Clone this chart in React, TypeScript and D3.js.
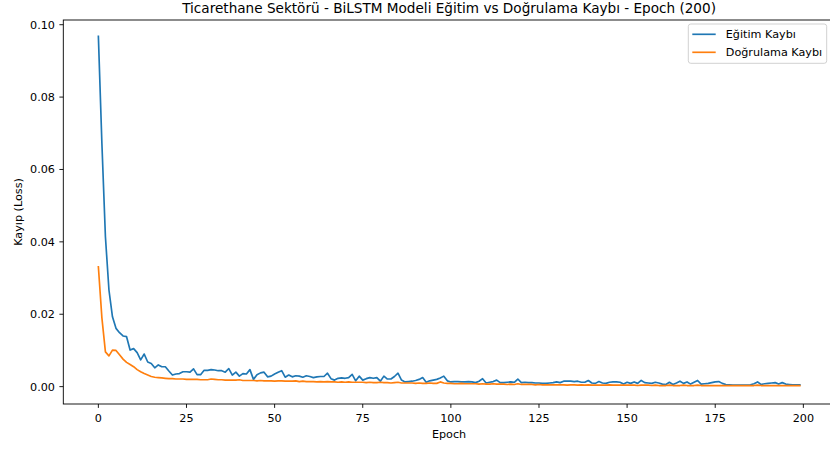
import React from "react";
import * as d3 from "d3";

const epochs: number[] = d3.range(200);

const trainLoss: number[] = [
  0.0968, 0.0672, 0.0414, 0.0267, 0.0193, 0.0161, 0.0149, 0.0140, 0.0138, 0.0101,
  0.0105, 0.0094, 0.0074, 0.0090, 0.0068, 0.0064, 0.0052, 0.0060, 0.0055, 0.0055,
  0.0043, 0.0032, 0.0035, 0.0036, 0.0041, 0.0041, 0.0040, 0.0049, 0.0033, 0.0033,
  0.0045, 0.0045, 0.0047, 0.0046, 0.0044, 0.0044, 0.0040, 0.0050, 0.0032, 0.0040,
  0.0029, 0.0036, 0.0035, 0.0047, 0.0020, 0.0033, 0.0038, 0.0040, 0.0027, 0.0029,
  0.0035, 0.0040, 0.0044, 0.0026, 0.0032, 0.0027, 0.0030, 0.0029, 0.0026, 0.0030,
  0.0028, 0.0025, 0.0027, 0.0028, 0.0028, 0.0037, 0.0022, 0.0018, 0.0023, 0.0024,
  0.0023, 0.0025, 0.0034, 0.0016, 0.0029, 0.0018, 0.0022, 0.0025, 0.0023, 0.0025,
  0.0015, 0.0029, 0.0021, 0.0021, 0.0028, 0.0037, 0.0018, 0.0013, 0.0014, 0.0015,
  0.0017, 0.0020, 0.0025, 0.0012, 0.0016, 0.0018, 0.0020, 0.0024, 0.0029, 0.0016,
  0.0013, 0.0014, 0.0014, 0.0013, 0.0013, 0.0014, 0.0013, 0.0011, 0.0015, 0.0022,
  0.0010, 0.0012, 0.0014, 0.0018, 0.0011, 0.0011, 0.0012, 0.0013, 0.0012, 0.0021,
  0.0011, 0.0012, 0.0011, 0.0011, 0.0010, 0.0010, 0.0009, 0.0009, 0.0010, 0.0011,
  0.0013, 0.0011, 0.0015, 0.0015, 0.0015, 0.0014, 0.0015, 0.0012, 0.0012, 0.0017,
  0.0010, 0.0009, 0.0014, 0.0010, 0.0009, 0.0012, 0.0013, 0.0013, 0.0012, 0.0007,
  0.0012, 0.0009, 0.0013, 0.0009, 0.0017, 0.0011, 0.0010, 0.0009, 0.0012, 0.0010,
  0.0007, 0.0006, 0.0012, 0.0006, 0.0010, 0.0015, 0.0009, 0.0013, 0.0007, 0.0012,
  0.0017, 0.0007, 0.0008, 0.0009, 0.0011, 0.0013, 0.0014, 0.0009, 0.0006, 0.0005,
  0.0004, 0.0004, 0.0004, 0.0004, 0.0004, 0.0005, 0.0008, 0.0013, 0.0006, 0.0008,
  0.0009, 0.0010, 0.0011, 0.0007, 0.0011, 0.0007, 0.0006, 0.0005, 0.0005, 0.0005,
];

const valLoss: number[] = [
  0.0331, 0.0190, 0.0096, 0.0085, 0.0101, 0.0100, 0.0088, 0.0076, 0.0067, 0.0061,
  0.0055, 0.0047, 0.0041, 0.0036, 0.0032, 0.0028, 0.0026, 0.0025, 0.0024, 0.0023,
  0.0022, 0.0022, 0.0021, 0.0021, 0.0021, 0.0020, 0.0020, 0.0020, 0.0020, 0.0019,
  0.0019, 0.0019, 0.0021, 0.0020, 0.0019, 0.0019, 0.0018, 0.0018, 0.0018, 0.0018,
  0.0019, 0.0017, 0.0017, 0.0017, 0.0017, 0.0016, 0.0017, 0.0016, 0.0016, 0.0016,
  0.0015, 0.0016, 0.0016, 0.0015, 0.0015, 0.0015, 0.0016, 0.0014, 0.0015, 0.0014,
  0.0014, 0.0014, 0.0013, 0.0014, 0.0013, 0.0014, 0.0013, 0.0013, 0.0012, 0.0013,
  0.0012, 0.0013, 0.0012, 0.0012, 0.0012, 0.0012, 0.0011, 0.0012, 0.0011, 0.0011,
  0.0012, 0.0011, 0.0011, 0.0010, 0.0011, 0.0012, 0.0010, 0.0010, 0.0010, 0.0010,
  0.0009, 0.0010, 0.0009, 0.0009, 0.0010, 0.0009, 0.0009, 0.0013, 0.0010, 0.0009,
  0.0009, 0.0008, 0.0008, 0.0009, 0.0008, 0.0008, 0.0008, 0.0008, 0.0007, 0.0008,
  0.0007, 0.0007, 0.0008, 0.0007, 0.0007, 0.0007, 0.0006, 0.0007, 0.0006, 0.0008,
  0.0006, 0.0006, 0.0006, 0.0006, 0.0005, 0.0006, 0.0005, 0.0005, 0.0005, 0.0005,
  0.0005, 0.0005, 0.0005, 0.0004, 0.0005, 0.0005, 0.0004, 0.0005, 0.0004, 0.0005,
  0.0004, 0.0004, 0.0004, 0.0004, 0.0004, 0.0005, 0.0004, 0.0004, 0.0004, 0.0004,
  0.0004, 0.0004, 0.0004, 0.0003, 0.0004, 0.0004, 0.0004, 0.0003, 0.0004, 0.0003,
  0.0003, 0.0003, 0.0004, 0.0003, 0.0003, 0.0003, 0.0004, 0.0003, 0.0003, 0.0003,
  0.0004, 0.0003, 0.0003, 0.0003, 0.0003, 0.0003, 0.0003, 0.0003, 0.0003, 0.0003,
  0.0003, 0.0003, 0.0003, 0.0003, 0.0003, 0.0003, 0.0003, 0.0004, 0.0003, 0.0003,
  0.0003, 0.0003, 0.0003, 0.0003, 0.0003, 0.0003, 0.0003, 0.0003, 0.0003, 0.0003,
];

const xTicks: number[] = [0, 25, 50, 75, 100, 125, 150, 175, 200];
const yTicks: number[] = [0.0, 0.02, 0.04, 0.06, 0.08, 0.1];

const seriesNames: string[] = ["Eğitim Kaybı", "Doğrulama Kaybı"];
const seriesColors: string[] = ["#1f77b4", "#ff7f0e"];

const titleText = "Ticarethane Sektörü - BiLSTM Modeli Eğitim vs Doğrulama Kaybı - Epoch (200)";

const W = 830;
const H = 449;
const L = 63.3;
const R = 834.9;
const T = 20;
const B = 404;
const FONT = "'DejaVu Sans', sans-serif";
const FS = 11.2;

export default function App() {
  const x = d3.scaleLinear().domain([-9.95, 208.95]).range([L, R]);
  const y = d3.scaleLinear().domain([-0.0048, 0.1013]).range([B, T]);

  const line = d3
    .line<number>()
    .x((_, i) => x(epochs[i]))
    .y((d) => y(d));

  const series = [trainLoss, valLoss];

  const legX = 688.3;
  const legY = 24;
  const legW = 138.4;
  const legH = 39.3;

  return (
    <svg
      width={W}
      height={H}
      style={{ position: "absolute", left: 0, top: 0, background: "#fff" }}
      fontFamily={FONT}
    >
      <rect x={0} y={0} width={W} height={H} fill="#fff" />
      <g>
        {series.map((s, k) => (
          <path
            key={k}
            d={line(s) || ""}
            fill="none"
            stroke={seriesColors[k]}
            strokeWidth={1.67}
            strokeLinejoin="round"
            strokeLinecap="square"
          />
        ))}
      </g>
      <rect x={L} y={T} width={R - L} height={B - T} fill="none" stroke="#000" strokeWidth={0.9} />
      {xTicks.map((t) => (
        <g key={"x" + t}>
          <line x1={x(t)} x2={x(t)} y1={B} y2={B + 3.9} stroke="#000" strokeWidth={0.9} />
          <text x={x(t)} y={B + 17.7} fontSize={FS} textAnchor="middle" fill="#000">
            {d3.format("d")(t)}
          </text>
        </g>
      ))}
      {yTicks.map((t) => (
        <g key={"y" + t}>
          <line x1={L - 3.9} x2={L} y1={y(t)} y2={y(t)} stroke="#000" strokeWidth={0.9} />
          <text x={L - 8.3} y={y(t) + 4} fontSize={FS} textAnchor="end" fill="#000">
            {d3.format(".2f")(t)}
          </text>
        </g>
      ))}
      <text x={(L + R) / 2} y={437.5} fontSize={FS} textAnchor="middle" fill="#000">
        Epoch
      </text>
      <text
        transform={`translate(21.5, ${(T + B) / 2}) rotate(-90)`}
        fontSize={FS}
        textAnchor="middle"
        fill="#000"
      >
        Kayıp (Loss)
      </text>
      <text x={(L + R) / 2} y={12.5} fontSize={13.6} textAnchor="middle" fill="#000">
        {titleText}
      </text>
      <rect
        x={legX}
        y={legY}
        width={legW}
        height={legH}
        rx={2.5}
        fill="#fff"
        fillOpacity={0.8}
        stroke="#cccccc"
        strokeWidth={0.9}
      />
      {seriesNames.map((n, k) => (
        <g key={n}>
          <line
            x1={legX + 4}
            x2={legX + 27.4}
            y1={legY + 10.3 + k * 18}
            y2={legY + 10.3 + k * 18}
            stroke={seriesColors[k]}
            strokeWidth={1.67}
          />
          <text x={legX + 37.5} y={legY + 14.2 + k * 18} fontSize={FS} fill="#000">
            {n}
          </text>
        </g>
      ))}
    </svg>
  );
}
